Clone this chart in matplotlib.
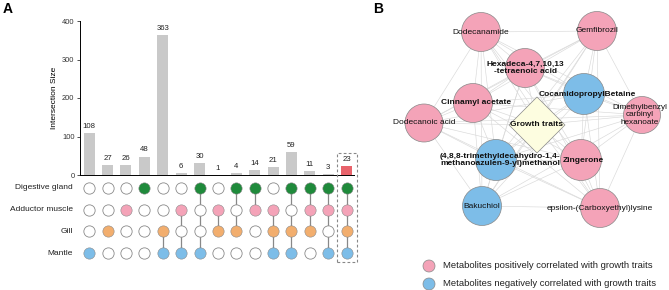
import matplotlib
matplotlib.use("Agg")
import matplotlib.pyplot as plt
from matplotlib.patches import Circle, Polygon, Rectangle
import itertools

plt.rcParams['font.family'] = ['Liberation Sans', 'DejaVu Sans']

# ---------------- Panel A data ----------------
sets = ["Digestive gland", "Adductor muscle", "Gill", "Mantle"]
set_colors = ["#1f8a3b", "#f4a3b8", "#f2ae6e", "#7dbde8"]
sizes = [108, 27, 26, 48, 363, 6, 30, 1, 4, 14, 21, 59, 11, 3, 23]
# membership per column: (DG, AM, Gill, Mantle)
membership = [
    (0, 0, 0, 1), (0, 0, 1, 0), (0, 1, 0, 0), (1, 0, 0, 0), (0, 0, 1, 1),
    (0, 1, 0, 1), (1, 0, 0, 1), (0, 1, 1, 0), (1, 0, 1, 0), (1, 1, 0, 0),
    (0, 1, 1, 1), (1, 0, 1, 1), (1, 1, 1, 0), (1, 1, 0, 1), (1, 1, 1, 1),
]
highlight = 14
yticks = [0, 100, 200, 300, 400]

# ---------------- Panel B data ----------------
node_names = ["Dodecanamide", "Gemfibrozil", "Hexadeca-4,7,10,13\n-tetraenoic acid",
              "CocamidopropylBetaine", "Cinnamyl acetate", "Dimethylbenzyl\ncarbinyl\nhexanoate",
              "Dodecanoic acid", "(4,8,8-trimethyldecahydro-1,4-\nmethanoazulen-9-yl)methanol",
              "Zingerone", "Bakuchiol", "epsilon-(Carboxyethyl)lysine"]
node_type = ["pos", "pos", "pos", "neg", "pos", "pos", "pos", "neg", "pos", "neg", "pos"]
node_bold = [False, False, True, True, True, False, False, True, True, False, False]
node_x = [481, 597, 525, 584, 473, 642, 424, 496, 581, 482, 600]
node_y = [32, 31, 68, 94, 103, 115, 123, 160, 160, 206, 208]
node_r = [19.5, 19.5, 19.5, 20.5, 19.5, 18.5, 19, 20.5, 20.5, 19.5, 19.5]
label_dx = [0, 0, 0, 3, 3, -2, 0, 4, 2, 0, 0]
hub_name = "Growth traits"
hub_x, hub_y, hub_half = 537, 125, 28
legend_labels = ["Metabolites positively correlated with growth traits",
                 "Metabolites negatively correlated with growth traits"]
type_colors = {"pos": "#f4a3b8", "neg": "#7dbde8"}

W, H = 669, 290
fig = plt.figure(figsize=(W / 100, H / 100), dpi=100)

def fr(x0, y0, x1, y1):
    return [x0 / W, (H - y1) / H, (x1 - x0) / W, (y1 - y0) / H]

# ---- bars ----
axb = fig.add_axes(fr(80, 21, 354, 175))
xs = list(range(len(sizes)))
bar_cols = ["#e8636b" if i == highlight else "#c9c9c9" for i in xs]
axb.bar(xs, sizes, width=0.6, color=bar_cols)
for i, v in enumerate(sizes):
    axb.text(i, v + 8, str(v), ha="center", va="bottom", fontsize=5.6, color="#222222")
axb.set_xlim(-0.5, 14.4)
axb.set_ylim(0, 400)
axb.set_yticks(yticks)
axb.tick_params(axis="y", labelsize=5.4, length=2.5, width=0.6, pad=1.5, colors="#333333")
axb.set_xticks([])
for s in ["top", "right"]:
    axb.spines[s].set_visible(False)
axb.spines["left"].set_linewidth(0.7)
axb.spines["bottom"].set_linewidth(0.7)
axb.set_ylabel("Intersection Size", fontsize=6, labelpad=3)

# ---- matrix ----
axm = fig.add_axes(fr(80, 177, 354, 264))
axm.set_xlim(-0.5, 14.4)
axm.set_ylim(-0.5, 3.5)
axm.axis("off")
rows_y = [3, 2, 1, 0]
for i, mem in enumerate(membership):
    on = [rows_y[k] for k in range(4) if mem[k]]
    if len(on) > 1:
        axm.plot([i, i], [min(on), max(on)], color="#888888", lw=0.9, zorder=1)
    for k in range(4):
        if mem[k]:
            axm.scatter(i, rows_y[k], s=66, color=set_colors[k], edgecolor="#8a8a8a",
                        linewidth=0.4, zorder=2)
        else:
            axm.scatter(i, rows_y[k], s=66, color="white", edgecolor="#8a8a8a",
                        linewidth=0.6, zorder=2)
for k, name in enumerate(sets):
    axm.text(-0.9, rows_y[k], name, ha="right", va="center", fontsize=6, color="#222222")

# highlight box
fig.patches.append(Rectangle((337 / W, (H - 262) / H), 20 / W, 109 / H, transform=fig.transFigure,
                             fill=False, ls=(0, (2.5, 2)), lw=0.8, edgecolor="#888888"))

fig.text(3 / W, 1 - 9 / H, "A", fontsize=10, fontweight="bold", va="center", ha="left")
fig.text(373 / W, 1 - 9 / H, "B", fontsize=10, fontweight="bold", va="center", ha="left")

# ---- network ----
axn = fig.add_axes(fr(380, 0, 669, 290))
axn.set_xlim(380, 669)
axn.set_ylim(290, 0)
axn.axis("off")

allx = node_x + [hub_x]
ally = node_y + [hub_y]
for a, b in itertools.combinations(range(len(allx)), 2):
    axn.plot([allx[a], allx[b]], [ally[a], ally[b]], color="#d9d9d9", lw=0.45, zorder=1)

for i in range(len(node_x)):
    axn.add_patch(Circle((node_x[i], node_y[i]), node_r[i], facecolor=type_colors[node_type[i]],
                         edgecolor="#888888", lw=0.5, zorder=2))
axn.add_patch(Polygon([(hub_x, hub_y - hub_half), (hub_x + hub_half, hub_y),
                       (hub_x, hub_y + hub_half), (hub_x - hub_half, hub_y)],
                      closed=True, facecolor="#fdfde0", edgecolor="#888888", lw=0.5, zorder=3))
for i in range(len(node_x)):
    axn.text(node_x[i] + label_dx[i], node_y[i], node_names[i], ha="center", va="center",
             fontsize=5.9 if i == 5 else 6, fontweight="bold" if node_bold[i] else "normal",
             color="#111111", linespacing=1.05, zorder=5)
axn.text(hub_x, hub_y, hub_name, ha="center", va="center", fontsize=6, fontweight="bold",
         color="#111111", zorder=5)

# legend
for j, (lab, t) in enumerate(zip(legend_labels, ["pos", "neg"])):
    yy = 266 + 18 * j
    axn.add_patch(Circle((429, yy), 6, facecolor=type_colors[t], edgecolor="#888888", lw=0.5))
    axn.text(443, yy, lab, ha="left", va="center", fontsize=6.8, color="#222222")

fig.savefig("out.png", dpi=100)
